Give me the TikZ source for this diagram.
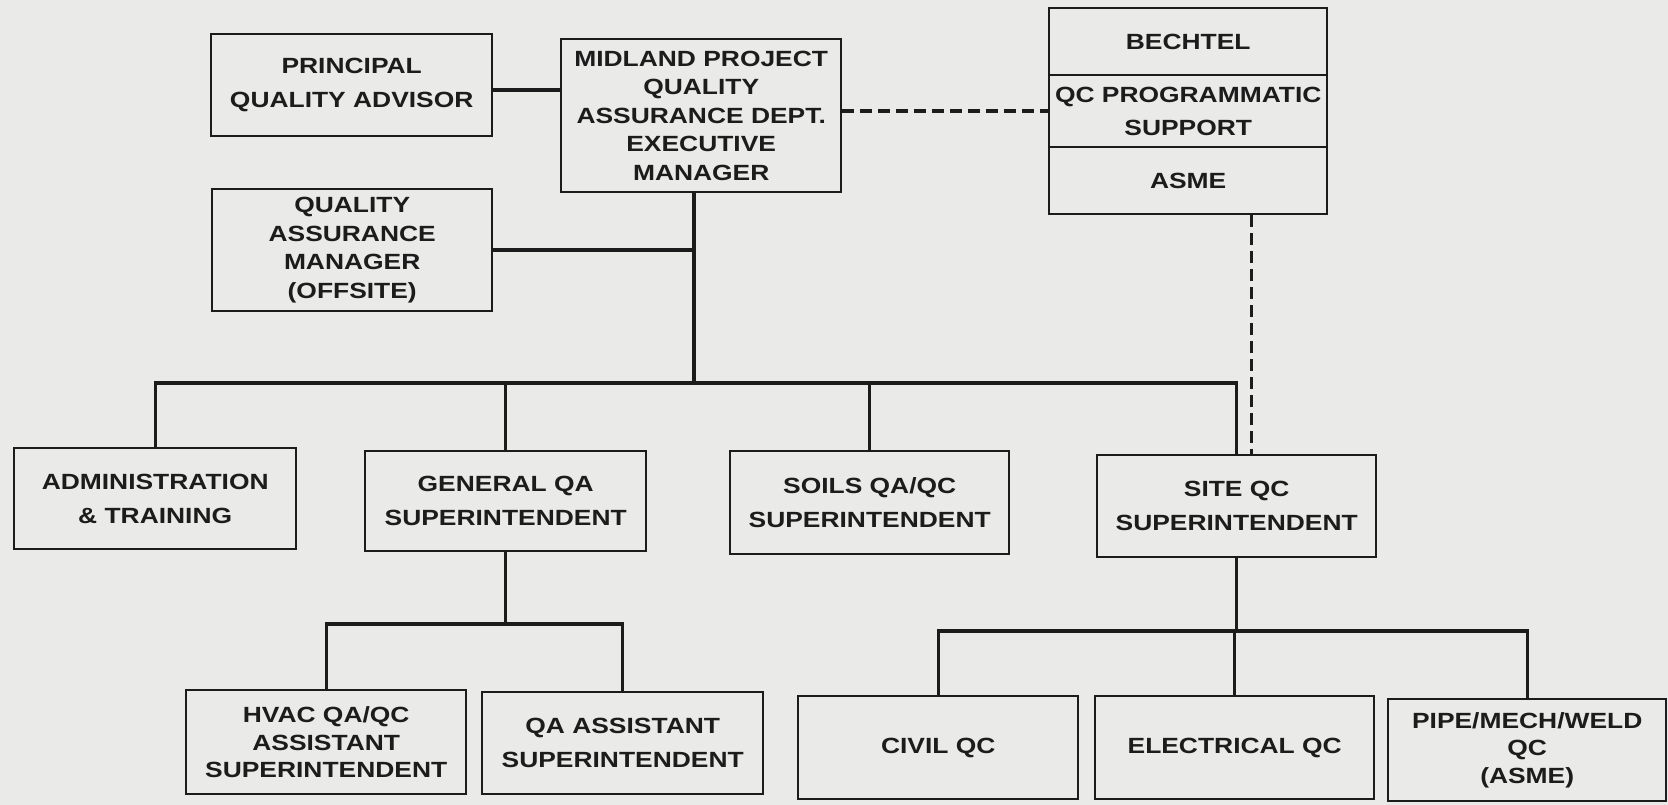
\documentclass[tikz,border=0pt]{standalone}
\usepackage{fontspec}
\newfontfamily\lbl{Liberation Sans}[FakeStretch=1.2]
\definecolor{bg}{RGB}{234,234,232}
\definecolor{ink}{RGB}{28,28,28}
\begin{document}
\begin{tikzpicture}[x=1pt,y=-1pt,
  box/.style={draw=ink, line width=2.4pt, inner sep=0pt, align=center, text=ink, anchor=north west,
              font=\lbl\bfseries\fontsize{22}{28.5}\selectfont},
  two/.style={font=\lbl\bfseries\fontsize{22}{34}\selectfont},
  three/.style={font=\lbl\bfseries\fontsize{22}{27.5}\selectfont},
  link/.style={draw=ink, line width=3.4pt},
  dlink/.style={draw=ink, line width=3.4pt, dash pattern=on 12pt off 6pt}]
\fill[bg] (0,0) rectangle (1668,805);
\useasboundingbox (0,0) rectangle (1668,805);

% top level
\node[box,two,minimum width=281pt,minimum height=102pt] (princ) at (210,33) {PRINCIPAL\\QUALITY ADVISOR};
\node[box,minimum width=280pt,minimum height=153pt] (mid) at (560,38) {MIDLAND PROJECT\\QUALITY\\ASSURANCE DEPT.\\EXECUTIVE\\MANAGER};
\node[box,minimum width=278pt,minimum height=67pt] (bech1) at (1048,7) {BECHTEL};
\node[box,font=\lbl\bfseries\fontsize{22}{33}\selectfont,minimum width=278pt,minimum height=72pt] (bech2) at (1048,74) {QC PROGRAMMATIC\\SUPPORT};
\node[box,minimum width=278pt,minimum height=67pt] (bech3) at (1048,146) {ASME};
\node[box,minimum width=280pt,minimum height=122pt] (qam) at (211,188) {QUALITY\\ASSURANCE\\MANAGER\\(OFFSITE)};

% second level
\node[box,two,minimum width=282pt,minimum height=101pt] (admin) at (13,447) {ADMINISTRATION\\\& TRAINING};
\node[box,two,minimum width=281pt,minimum height=100pt] (gen) at (364,450) {GENERAL QA\\SUPERINTENDENT};
\node[box,two,minimum width=279pt,minimum height=103pt] (soils) at (729,450) {SOILS QA/QC\\SUPERINTENDENT};
\node[box,two,minimum width=279pt,minimum height=102pt] (site) at (1096,454) {SITE QC\\SUPERINTENDENT};

% third level
\node[box,three,minimum width=280pt,minimum height=104pt] (hvac) at (185,689) {HVAC QA/QC\\ASSISTANT\\SUPERINTENDENT};
\node[box,two,minimum width=281pt,minimum height=102pt] (qaa) at (481,691) {QA ASSISTANT\\SUPERINTENDENT};
\node[box,minimum width=280pt,minimum height=103pt] (civil) at (797,695) {CIVIL QC};
\node[box,minimum width=279pt,minimum height=103pt] (elec) at (1094,695) {ELECTRICAL QC};
\node[box,three,minimum width=278pt,minimum height=102pt] (pipe) at (1387,698) {PIPE/MECH/WELD\\QC\\(ASME)};

% connectors
\coordinate (bus) at (694,383);
\coordinate (gbus) at (0,624);
\coordinate (sbus) at (0,631);

\draw[link] ([yshift=-5pt]princ.east) -- ([yshift=-5pt]princ.east -| mid.west);
\draw[dlink] (bech2.west -| mid.east) -- (bech2.west);
\draw[link] (mid.south -| bus) -- (bus);
\draw[link] (qam.east) -- (qam.east -| bus);
\draw[link] (admin.north) -- (admin.north |- bus) -- (site.north |- bus) -- (site.north);
\draw[link] (gen.north) -- (gen.north |- bus);
\draw[link] (soils.north) -- (soils.north |- bus);
\draw[dlink] ([xshift=15pt]bech3.south -| site.north) -- ([xshift=15pt]site.north);

\draw[link] (gen.south) -- (gen.south |- gbus);
\draw[link] (hvac.north) -- (hvac.north |- gbus) -- (qaa.north |- gbus) -- (qaa.north);

\draw[link] (site.south) -- (site.south |- sbus);
\draw[link] (civil.north) -- (civil.north |- sbus) -- (pipe.north |- sbus) -- (pipe.north);
\draw[link] (elec.north) -- (elec.north |- sbus);
\end{tikzpicture}
\end{document}
